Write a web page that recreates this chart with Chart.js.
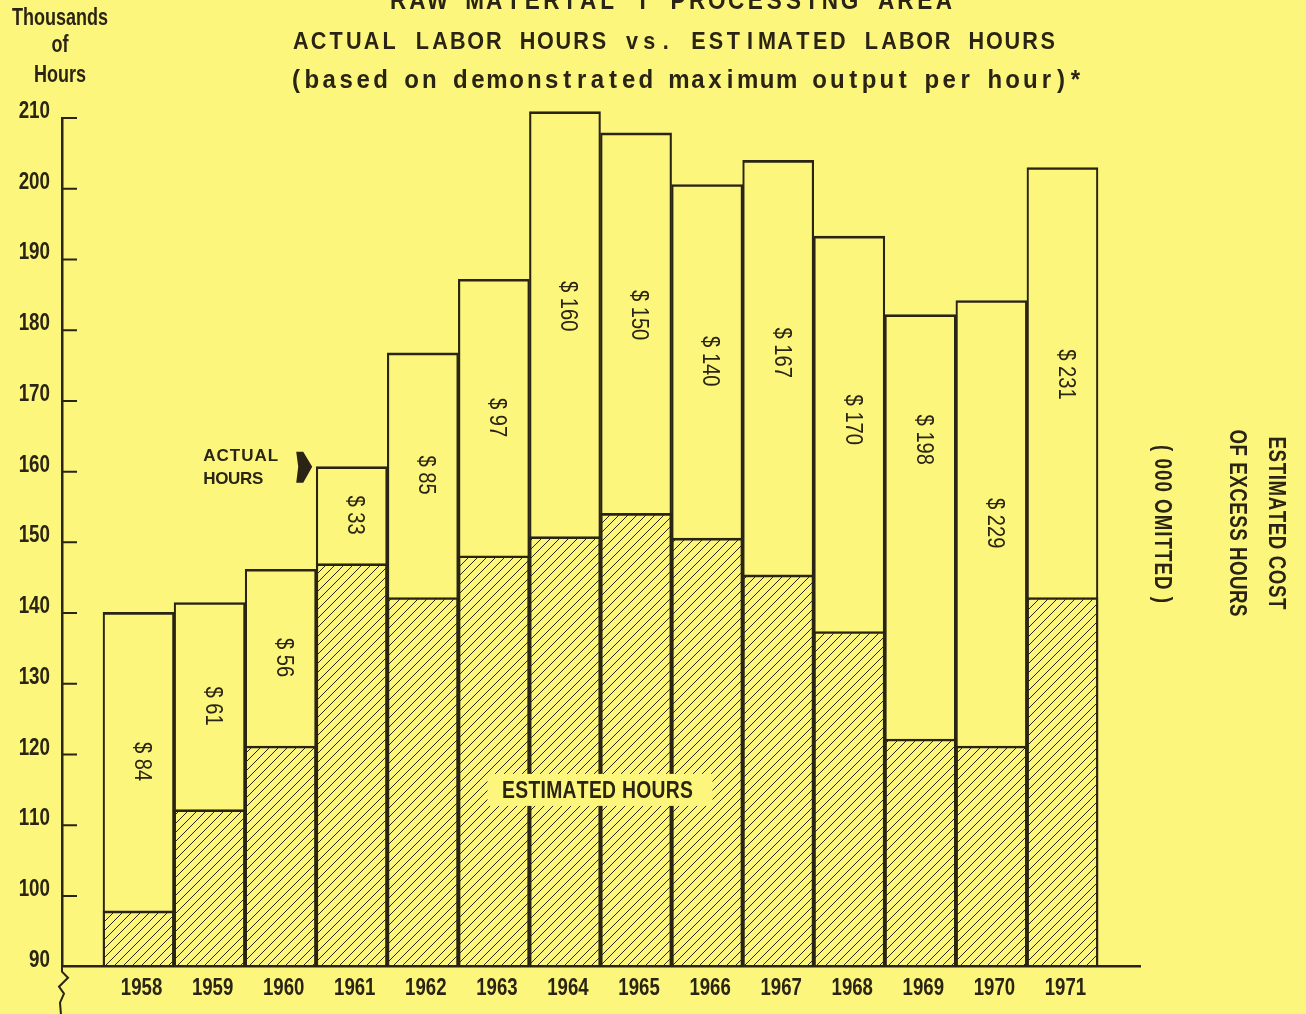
<!DOCTYPE html>
<html>
<head>
<meta charset="utf-8">
<title>Raw Material Processing Area — Actual vs. Estimated Labor Hours</title>
<script src="https://cdn.jsdelivr.net/npm/chart.js@4.4.1/dist/chart.umd.min.js"></script>
<style>
  html, body { margin: 0; padding: 0; background: #fdf67c; }
  canvas { display: block; }
</style>
</head>
<body>
<canvas id="chart" width="1306" height="1014"></canvas>
<script>
// ---- data (thousands of hours) ----
const years = ['1958', '1959', '1960', '1961', '1962', '1963', '1964',
               '1965', '1966', '1967', '1968', '1969', '1970', '1971'];
const actualHours    = [140.1, 141.5, 146.2, 160.7, 176.8, 187.2, 210.9,
                        207.9, 200.6, 204.0, 193.3, 182.2, 184.2, 203.0];
const estimatedHours = [97.9, 112.2, 121.2, 147.0, 142.2, 148.1, 150.8,
                        154.1, 150.6, 145.4, 137.4, 122.2, 121.2, 142.2];
// estimated cost of excess hours, $000 omitted
const excessCost = [84, 61, 56, 33, 85, 97, 160, 150, 140, 167, 170, 198, 229, 231];
const yTickValues = [90, 100, 110, 120, 130, 140, 150, 160, 170, 180, 190, 200, 210];

// ---- styling ----
const PAPER = '#fdf67c';
const INK = '#2a2414';
const FACE = "'Liberation Sans', Arial, sans-serif";
// hand-set lettering: vertical shift (px) of some cost figures from the middle of their gap
const costLift = { 6: -18, 7: -8, 9: -15, 10: -14, 11: -87, 13: -8 };

function hatchPattern() {
  const s = 9;
  const tile = document.createElement('canvas');
  tile.width = s; tile.height = s;
  const g = tile.getContext('2d');
  g.strokeStyle = INK;
  g.lineWidth = 1;
  g.beginPath();
  g.moveTo(-1, s + 1); g.lineTo(s + 1, -1);
  g.moveTo(-1, 1); g.lineTo(1, -1);
  g.moveTo(s - 1, s + 1); g.lineTo(s + 1, s - 1);
  g.stroke();
  return g.createPattern(tile, 'repeat');
}

// Lettering helper: condensed glyphs (sx), optionally spread to a width.
// `mono` (0..1) blends even gaps with an even typewriter pitch.
function letter(ctx, text, x, y, o) {
  const sx = o.sx ?? 1;
  ctx.font = `${o.bold ? 'bold ' : ''}${o.size}px ${FACE}`;
  ctx.textBaseline = o.baseline ?? 'alphabetic';
  ctx.textAlign = 'left';
  const chars = Array.from(text);
  const n = chars.length;
  const widths = chars.map(c => ctx.measureText(c).width * sx);
  const natural = widths.reduce((a, b) => a + b, 0);
  const total = o.width ?? natural;
  const align = o.align ?? 'center';
  const x0 = align === 'center' ? x - total / 2 : align === 'right' ? x - total : x;
  const m = o.mono ?? 0;
  const gap = n > 1 ? (total - natural) / (n - 1) : 0;
  const step = n > 1 ? (total - widths[0] / 2 - widths[n - 1] / 2) / (n - 1) : 0;
  let run = x0;
  chars.forEach((c, i) => {
    const even = run;
    const pitched = x0 + widths[0] / 2 + i * step - widths[i] / 2;
    run += widths[i] + gap;
    ctx.save();
    ctx.translate((1 - m) * even + m * pitched, y);
    ctx.scale(sx, 1);
    ctx.fillText(c, 0, 0);
    ctx.restore();
  });
}

// same, turned a quarter clockwise so it reads downwards
function letterDown(ctx, text, cx, cy, o) {
  ctx.save();
  ctx.translate(cx, cy);
  ctx.rotate(Math.PI / 2);
  letter(ctx, text, 0, 0, Object.assign({ baseline: 'middle', align: 'center' }, o));
  ctx.restore();
}

const paper = {
  id: 'paper',
  beforeDraw(chart) {
    const { ctx, width, height } = chart;
    ctx.save();
    ctx.fillStyle = PAPER;
    ctx.fillRect(0, 0, width, height);
    ctx.restore();
  }
};

const decorations = {
  id: 'decorations',
  afterDraw(chart) {
    const { ctx, chartArea } = chart;
    const xs = chart.scales.x, ys = chart.scales.y;
    ctx.save();
    ctx.fillStyle = INK;
    ctx.strokeStyle = INK;

    // tick marks on the inside of the vertical axis, figures to the left
    ctx.lineWidth = 2;
    ctx.beginPath();
    ys.ticks.forEach(t => {
      const y = ys.getPixelForValue(t.value);
      letter(ctx, String(t.value), chartArea.left - 12, y, { size: 23.5, bold: true, sx: 0.8, align: 'right' });
      if (t.value === ys.min) return;
      ctx.moveTo(chartArea.left, y);
      ctx.lineTo(chartArea.left + 15, y);
    });
    ctx.stroke();

    // year labels under the bars
    xs.ticks.forEach(t => {
      letter(ctx, years[t.value - 1], xs.getPixelForValue(t.value) + 3, chartArea.bottom + 28.5,
             { size: 24.5, bold: true, sx: 0.76 });
    });

    // axis break below the origin
    const bx = chartArea.left, by = chartArea.bottom;
    ctx.lineWidth = 2;
    ctx.beginPath();
    ctx.moveTo(bx, by);
    ctx.lineTo(bx, by + 5);
    ctx.lineTo(bx + 6, by + 11);
    ctx.lineTo(bx - 3, by + 20);
    ctx.lineTo(bx + 2, by + 27);
    ctx.lineTo(bx - 2, by + 36);
    ctx.lineTo(bx - 1, by + 48);
    ctx.stroke();

    // excess-cost figures inside the un-hatched part of each bar
    years.forEach((_, i) => {
      const x = xs.getPixelForValue(i + 1) + 3;
      const y = (ys.getPixelForValue(actualHours[i]) + ys.getPixelForValue(estimatedHours[i])) / 2
                + (costLift[i] ?? 0);
      letterDown(ctx, '$ ' + excessCost[i], x, y, { size: 24, sx: 0.84 });
    });

    // "ESTIMATED HOURS" plate across the hatching
    const ex = xs.getPixelForValue(7.5), ey = ys.getPixelForValue(115);
    ctx.fillStyle = PAPER;
    ctx.fillRect(ex - 113, ey - 16, 225, 32);
    ctx.fillStyle = INK;
    letter(ctx, 'ESTIMATED HOURS', ex - 3, ey + 8, { size: 23, bold: true, sx: 0.84, width: 191 });

    // "ACTUAL HOURS" pointer to the top of the 1961 bar
    const tx = xs.getPixelForValue(3.5) - 4, ty = ys.getPixelForValue(actualHours[3]);
    ctx.beginPath();
    ctx.moveTo(tx - 16, ty - 15);
    ctx.lineTo(tx - 9, ty - 15);
    ctx.lineTo(tx, ty);
    ctx.lineTo(tx - 9, ty + 16);
    ctx.lineTo(tx - 16, ty + 16);
    ctx.lineTo(tx - 14, ty);
    ctx.closePath();
    ctx.fill();
    letter(ctx, 'ACTUAL', tx - 109, ty - 6, { size: 17, bold: true, width: 75, align: 'left' });
    letter(ctx, 'HOURS', tx - 109, ty + 17, { size: 17, bold: true, width: 60, align: 'left' });

    // headings, spread in typewriter fashion
    letter(ctx, 'RAW MATERIAL I PROCESSING AREA', 671, 8.5,
           { size: 25, bold: true, sx: 0.9, width: 562, mono: 0.8 });
    letter(ctx, 'ACTUAL LABOR HOURS vs. ESTIMATED LABOR HOURS', 674, 48.5,
           { size: 24, bold: true, sx: 0.9, width: 762, mono: 0.8 });
    letter(ctx, '(based on demonstrated maximum output per hour)*', 686, 88,
           { size: 25, bold: true, sx: 0.96, width: 788, mono: 0.45 });

    // vertical axis unit
    const unit = { size: 24, bold: true, sx: 0.75 };
    letter(ctx, 'Thousands', 60, 25, unit);
    letter(ctx, 'of', 60, 52, unit);
    letter(ctx, 'Hours', 60, 82, unit);

    // right-hand caption
    const cap = { size: 24, bold: true, sx: 0.78 };
    letterDown(ctx, 'ESTIMATED COST', 1276, 523, Object.assign({ width: 173 }, cap));
    letterDown(ctx, 'OF EXCESS HOURS', 1237, 523, Object.assign({ width: 187 }, cap));
    letterDown(ctx, '( 000 OMITTED )', 1162, 524, Object.assign({ width: 158 }, cap));

    ctx.restore();
  }
};

const hatch = hatchPattern();
const edge = { top: 2, left: 1.5, right: 1.5, bottom: 0 };

new Chart(document.getElementById('chart'), {
  type: 'bar',
  data: {
    datasets: [
      {
        label: 'Estimated hours',
        data: estimatedHours.map((v, i) => ({ x: i + 1, y: v })),
        backgroundColor: hatch,
        borderColor: INK,
        borderWidth: edge,
        order: 1
      },
      {
        label: 'Actual hours',
        data: actualHours.map((v, i) => ({ x: i + 1, y: v })),
        backgroundColor: 'rgba(0,0,0,0)',
        borderColor: INK,
        borderWidth: edge,
        order: 2
      }
    ]
  },
  options: {
    responsive: false,
    animation: false,
    devicePixelRatio: 1,
    events: [],
    datasets: {
      bar: {
        grouped: false, barPercentage: 1, categoryPercentage: 1, clip: false,
        base: yTickValues[0]
      }
    },
    layout: { padding: { top: 118, right: 166, left: 0, bottom: 0 } },
    plugins: {
      legend: { display: false },
      tooltip: { enabled: false },
      title: { display: false }
    },
    scales: {
      x: {
        type: 'linear',
        offset: false,
        min: -0.077,
        max: 15.091,
        z: 1,
        grid: { display: false, drawTicks: false, offset: false },
        border: { display: true, color: INK, width: 2.5 },
        ticks: { display: false },
        afterBuildTicks: s => { s.ticks = years.map((_, i) => ({ value: i + 1 })); },
        afterFit: s => { s.height = 47.3; }
      },
      y: {
        min: yTickValues[0],
        max: yTickValues[yTickValues.length - 1],
        z: 1,
        grid: { display: false, drawTicks: false },
        border: { display: true, color: INK, width: 2.5 },
        ticks: { display: false },
        afterBuildTicks: s => { s.ticks = yTickValues.map(v => ({ value: v })); },
        afterFit: s => { s.width = 62; }
      }
    }
  },
  plugins: [paper, decorations]
});
</script>
</body>
</html>
